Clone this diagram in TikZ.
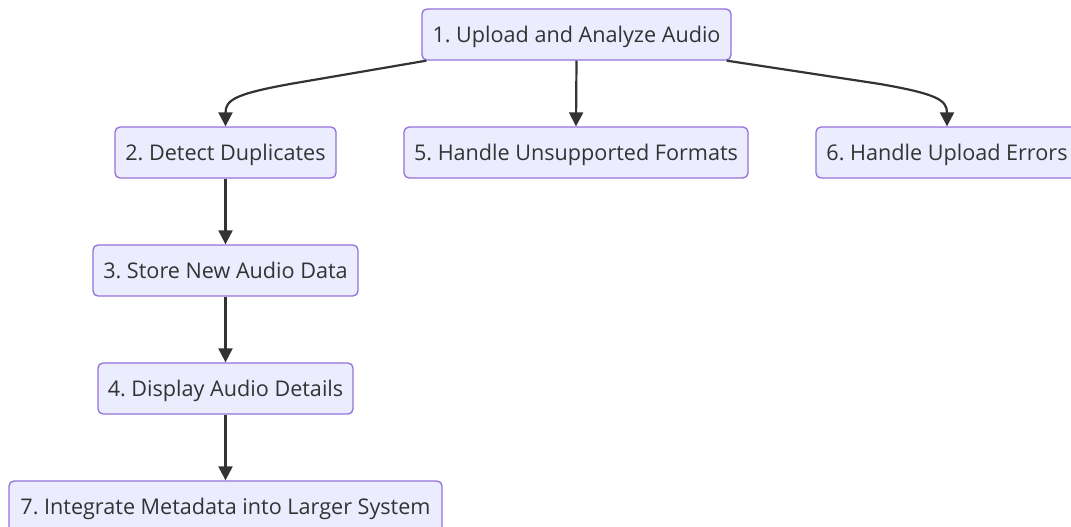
\documentclass[tikz,border=0pt]{standalone}
\usepackage{fontspec}
\setmainfont{Open Sans}
\usetikzlibrary{arrows.meta}
\definecolor{boxfill}{HTML}{ECECFF}
\definecolor{boxline}{HTML}{9370DB}
\definecolor{ink}{HTML}{333333}
\frenchspacing
\tikzset{
  box/.style={draw=boxline, fill=boxfill, line width=1.3pt, rounded corners=5pt,
    minimum height=51pt, inner sep=0pt, text=ink, text height=15.5pt, text depth=0pt,
    font=\fontsize{21.6}{25}\selectfont\frenchspacing},
  arr/.style={draw=ink, line width=2.2pt, -{Triangle[length=14pt,width=14pt]}},
}
\begin{document}
\begin{tikzpicture}[x=1pt,y=-1pt]
\path[use as bounding box] (0,0) rectangle (1071,527);
\clip (0,0) rectangle (1071,527);
\node[box, minimum width=309pt] (n1) at (576.5,34.5) {1. Upload and Analyze Audio};
\node[box, minimum width=221pt] (n2) at (225.5,152.5) {2. Detect Duplicates};
\node[box, minimum width=344pt] (n5) at (576,152.5) {5. Handle Unsupported Formats};
\node[box, minimum width=262pt] (n6) at (947,152.5) {6. Handle Upload Errors};
\node[box, minimum width=265pt] (n3) at (225.5,270.5) {3. Store New Audio Data};
\node[box, minimum width=255pt] (n4) at (225.5,388.5) {4. Display Audio Details};
\node[box, minimum width=433pt] (n7) at (225.5,506.5) {7. Integrate Metadata into Larger System};
\coordinate (c1) at (290,84);
\coordinate (c2) at (880,84);
\draw[arr] ([xshift=5pt]n1.south west) -- (c1) .. controls (235,94) and (n2.north|-100,100) .. (n2.north);
\draw[arr] (n1.south) -- (n5.north);
\draw[arr] ([xshift=-5pt]n1.south east) -- (c2) .. controls (937,94) and (n6.north|-100,100) .. (n6.north);
\draw[arr] (n2.south) -- (n3.north);
\draw[arr] (n3.south) -- (n4.north);
\draw[arr] (n4.south) -- (n7.north);
\end{tikzpicture}
\end{document}
